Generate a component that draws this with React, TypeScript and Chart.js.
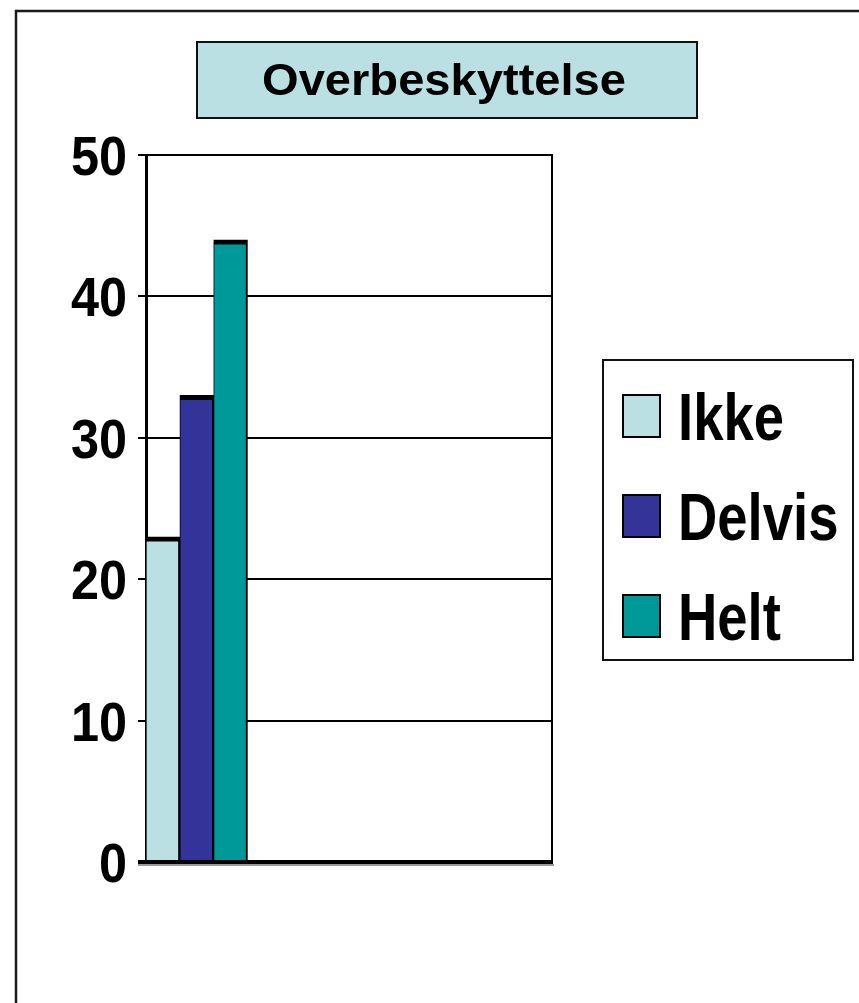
import React, { useEffect, useRef } from "react";
import { Chart, registerables } from "chart.js";

Chart.register(...registerables);

const TITLE = "Overbeskyttelse";
const CATEGORIES = ["", "", "", ""];
const SERIES_LABELS = ["Ikke", "Delvis", "Helt"];
const IKKE = [23, null, null, null];
const DELVIS = [33, null, null, null];
const HELT = [44, null, null, null];
const COLORS = ["#BBE0E3", "#333399", "#009999"];
const Y_MIN = 0;
const Y_MAX = 50;
const Y_STEP = 10;

const FONT = '"Liberation Sans", Arial, sans-serif';

const decorPlugin = {
  id: "decor",
  beforeDraw(chart: any) {
    const ctx = chart.ctx;
    ctx.save();
    ctx.fillStyle = "#ffffff";
    ctx.fillRect(0, 0, chart.width, chart.height);
    ctx.strokeStyle = "#1a1a1a";
    ctx.lineWidth = 2.5;
    ctx.strokeRect(16, 11, chart.width + 20, chart.height + 20);
    ctx.restore();
  },
  afterDraw(chart: any) {
    const ctx = chart.ctx;
    const a = chart.chartArea;
    ctx.save();
    // frame top/right
    ctx.strokeStyle = "#000";
    ctx.lineWidth = 2;
    ctx.beginPath();
    ctx.moveTo(a.left, a.top);
    ctx.lineTo(a.right, a.top);
    ctx.lineTo(a.right, a.bottom);
    ctx.stroke();
    // bottom axis thick
    ctx.strokeStyle = "#999";
    ctx.lineWidth = 2;
    ctx.beginPath();
    ctx.moveTo(a.left - 8, a.bottom + 3);
    ctx.lineTo(a.right + 2, a.bottom + 3);
    ctx.stroke();
    ctx.strokeStyle = "#000";
    ctx.lineWidth = 4;
    ctx.beginPath();
    ctx.moveTo(a.left - 8, a.bottom);
    ctx.lineTo(a.right + 1, a.bottom);
    ctx.stroke();

    // y tick labels (condensed bold), positioned by the library's scale
    const ys = chart.scales.y;
    ctx.font = `bold 56px ${FONT}`;
    ctx.fillStyle = "#000";
    ys.ticks.forEach((t: any) => {
      const y = ys.getPixelForValue(t.value);
      const label = String(t.label);
      ctx.save();
      ctx.translate(127, y + 20);
      ctx.scale(0.9, 1);
      ctx.textAlign = "right";
      ctx.textBaseline = "alphabetic";
      ctx.fillText(label, 0, 0);
      ctx.restore();
    });

    // title box
    ctx.fillStyle = "#BBE0E3";
    ctx.fillRect(197, 42, 500, 76);
    ctx.strokeStyle = "#111";
    ctx.lineWidth = 2;
    ctx.strokeRect(197, 42, 500, 76);
    ctx.fillStyle = "#000";
    ctx.font = `bold 44px ${FONT}`;
    const tw = ctx.measureText(TITLE).width;
    const tsx = 364 / tw;
    ctx.save();
    ctx.translate(444, 95);
    ctx.scale(tsx, 1);
    ctx.textAlign = "center";
    ctx.textBaseline = "alphabetic";
    ctx.fillText(TITLE, 0, 0);
    ctx.restore();

    // legend box
    ctx.fillStyle = "#fff";
    ctx.fillRect(603, 360, 250, 300);
    ctx.strokeStyle = "#111";
    ctx.lineWidth = 2;
    ctx.strokeRect(603, 360, 250, 300);
    ctx.font = `bold 67px ${FONT}`;
    const ref = ctx.measureText("Ikke").width;
    const lsx = 106 / ref;
    chart.data.datasets.forEach((ds: any, i: number) => {
      const base = 440 + i * 100;
      ctx.fillStyle = ds.backgroundColor;
      ctx.fillRect(623, base - 45, 37, 42);
      ctx.strokeStyle = "#000";
      ctx.lineWidth = 2;
      ctx.strokeRect(623, base - 45, 37, 42);
      ctx.save();
      ctx.translate(678, base);
      ctx.scale(lsx, 1);
      ctx.fillStyle = "#000";
      ctx.textAlign = "left";
      ctx.textBaseline = "alphabetic";
      ctx.fillText(ds.label, 0, 0);
      ctx.restore();
    });
    ctx.restore();
  },
};

export default function App() {
  const ref = useRef<HTMLCanvasElement | null>(null);
  useEffect(() => {
    if (!ref.current) return;
    const values = [IKKE, DELVIS, HELT];
    const chart = new Chart(ref.current, {
      type: "bar",
      data: {
        labels: CATEGORIES,
        datasets: SERIES_LABELS.map((label, i) => ({
          label,
          data: values[i] as any,
          backgroundColor: COLORS[i],
          borderColor: "#000",
          borderWidth: { top: 5, right: 2, left: 1, bottom: 0 } as any,
          borderSkipped: "bottom" as any,
          categoryPercentage: 1,
          barPercentage: 1,
        })),
      },
      options: {
        animation: false,
        responsive: false,
        devicePixelRatio: 1,
        layout: { padding: { top: 155, right: 307, bottom: 141, left: 0 } },
        plugins: {
          legend: { display: false },
          title: { display: false },
          tooltip: { enabled: false },
        },
        scales: {
          x: {
            type: "category",
            ticks: { display: false },
            grid: { display: false },
            border: { display: false },
            afterFit(scale: any) {
              scale.height = 0;
            },
          },
          y: {
            min: Y_MIN,
            max: Y_MAX,
            ticks: {
              stepSize: Y_STEP,
              color: "rgba(0,0,0,0)",
              padding: 9,
              font: { family: FONT, weight: "bold", size: 56 },
            },
            grid: {
              color: "#000",
              lineWidth: 2,
              tickLength: 8,
              tickColor: "#000",
              tickWidth: 2,
            },
            border: { display: true, color: "#000", width: 3 },
            afterFit(scale: any) {
              scale.width = 146;
            },
          },
        },
      },
      plugins: [decorPlugin],
    });
    return () => chart.destroy();
  }, []);
  return (
    <div style={{ position: "absolute", left: 0, top: 0, width: 859, height: 1003 }}>
      <canvas ref={ref} width={859} height={1003} style={{ display: "block" }} />
    </div>
  );
}
